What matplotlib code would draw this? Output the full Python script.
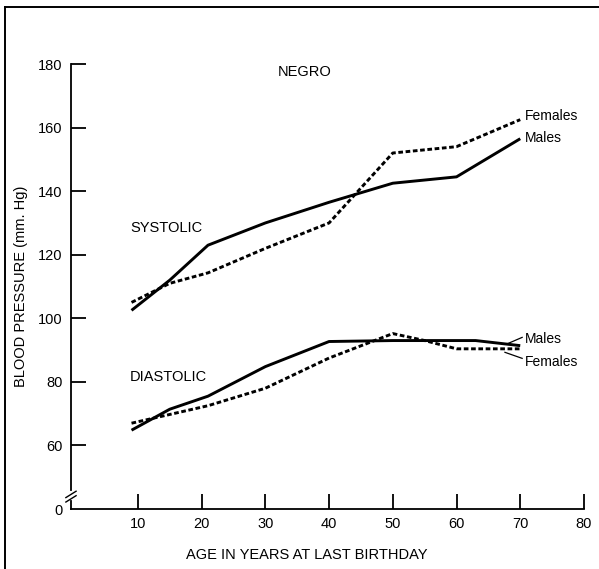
import matplotlib
matplotlib.use("Agg")
import matplotlib.pyplot as plt
from matplotlib.lines import Line2D

plt.rcParams["font.family"] = ["Liberation Sans", "DejaVu Sans"]

# ages at which the curves are drawn
ages_sys_m = [9, 15, 21, 30, 40, 50, 60, 70]
sys_males = [102.5, 112, 123, 130, 136.5, 142.5, 144.5, 156.5]
ages_sys_f = [9, 15, 21, 30, 40, 50, 60, 70]
sys_females = [105, 111, 114.3, 122, 130, 152, 154, 162.5]

ages_dia_m = [9, 15, 21, 30, 40, 50, 60, 63, 70]
dia_males = [64.8, 71.4, 75.5, 84.8, 92.7, 93, 93, 93, 91.4]
ages_dia_f = [9, 21, 30, 40, 50, 55, 60, 70]
dia_females = [67, 72.5, 78, 87.5, 95.2, 93, 90.4, 90.4]

xticks = [10, 20, 30, 40, 50, 60, 70, 80]
yticks = [40, 60, 80, 100, 120, 140, 160, 180]
ytick_labels = ["0", "60", "80", "100", "120", "140", "160", "180"]

fig = plt.figure(figsize=(5.99, 5.69), dpi=100)
ax = fig.add_axes([0.1185, 0.1054, 0.8564, 0.7821])

dotted = (0, (1.6, 0.9))
ax.plot(ages_sys_m, sys_males, color="black", lw=2.1, solid_capstyle="butt")
ax.plot(ages_sys_f, sys_females, color="black", lw=2.1, linestyle=dotted)
ax.plot(ages_dia_m, dia_males, color="black", lw=2.1, solid_capstyle="butt")
ax.plot(ages_dia_f, dia_females, color="black", lw=2.1, linestyle=dotted)

ax.set_xlim(-0.5, 80)
ax.set_ylim(40, 180)

for s in ["top", "right"]:
    ax.spines[s].set_visible(False)
ax.spines["left"].set_bounds(46, 180)
ax.spines["left"].set_linewidth(1.3)
ax.spines["bottom"].set_linewidth(1.3)
ax.spines["bottom"].set_bounds(-0.5, 80)

# small stub under the axis break and the break marks
ax.plot([-0.5, -0.5], [40, 42.5], color="black", lw=1.3, clip_on=False)
ax.plot([-1.3, 0.3], [42.2, 44.2], color="black", lw=1.0, clip_on=False)
ax.plot([-1.3, 0.3], [43.6, 45.6], color="black", lw=1.0, clip_on=False)

ax.set_xticks(xticks)
ax.set_yticks(yticks)
ax.set_yticklabels(ytick_labels)
ax.tick_params(axis="x", direction="in", length=11, width=1.3, pad=6, labelsize=10.5)
ax.tick_params(axis="y", direction="in", length=11, width=1.3, pad=6, labelsize=10.5)
for t in ax.yaxis.get_major_ticks()[:1]:
    t.tick1line.set_visible(False)

ax.set_xlabel("AGE IN YEARS AT LAST BIRTHDAY", fontsize=10.5)
ax.xaxis.set_label_coords(0.459, -0.088)
ax.set_ylabel("BLOOD PRESSURE (mm. Hg)", fontsize=10.5)
ax.yaxis.set_label_coords(-0.084, 0.5)

ax.text(32, 177.5, "NEGRO", fontsize=10.5, va="center", ha="left")
ax.text(8.8, 128.3, "SYSTOLIC", fontsize=10.5, va="center", ha="left")
ax.text(8.8, 81.4, "DIASTOLIC", fontsize=10.5, va="center", ha="left")

ax.text(70.8, 163.6, "Females", fontsize=10, va="center", ha="left")
ax.text(70.8, 156.7, "Males", fontsize=10, va="center", ha="left")
ax.text(70.8, 93.6, "Males", fontsize=10, va="center", ha="left")
ax.text(70.8, 86.2, "Females", fontsize=10, va="center", ha="left")
ax.plot([68.1, 70.3], [92.1, 94.0], color="black", lw=0.9, clip_on=False)
ax.plot([67.6, 70.3], [89.3, 87.4], color="black", lw=0.9, clip_on=False)

# page frame (top and left edges only)
fig.add_artist(Line2D([0.009, 1.0], [0.988, 0.988], color="black", lw=1.4,
                      transform=fig.transFigure))
fig.add_artist(Line2D([0.009, 0.009], [0.0, 0.988], color="black", lw=1.4,
                      transform=fig.transFigure))

fig.savefig("out.png", dpi=100)
